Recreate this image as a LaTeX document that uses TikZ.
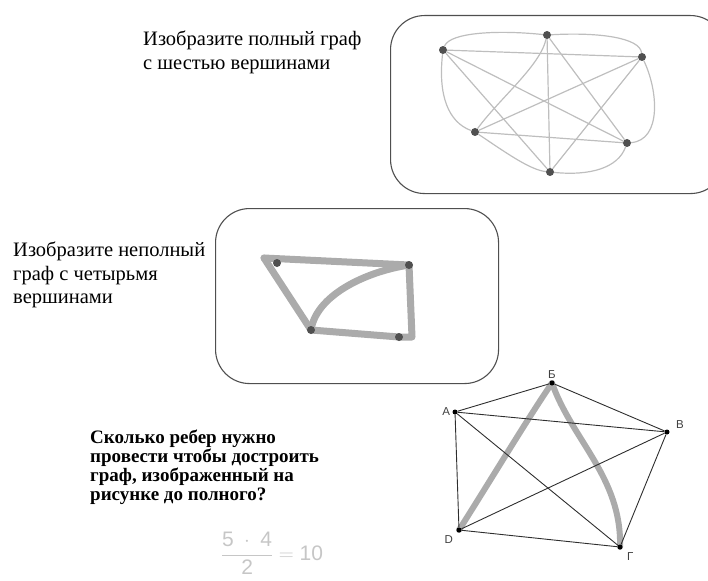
\documentclass[tikz,border=0pt]{standalone}
\usepackage{fontspec}
\setmainfont{Liberation Serif}
\setsansfont{Liberation Sans}
\usetikzlibrary{positioning,backgrounds}
\definecolor{frame600} {HTML}{4F4F4F}
\definecolor{edge300}  {HTML}{BEBEBE}
\definecolor{mark700}  {HTML}{505050}
\definecolor{hilite400}{HTML}{ABABAB}
\definecolor{line800}  {HTML}{2E2E2E}
\definecolor{hand300}  {HTML}{C6C6C6}
\tikzset{
  frame/.style ={draw=frame600, line width=1.1pt, rounded corners=34pt,
                 inner sep=0pt, anchor=north west},
  task/.style  ={align=left, inner sep=0pt, anchor=north west,
                 font=\fontsize{20.5}{23.5}\selectfont},
  taskb/.style ={align=left, inner sep=0pt, anchor=north west,
                 font=\bfseries\fontsize{19}{19}\selectfont},
  dot/.style   ={circle, fill=mark700, inner sep=0pt, minimum size=8pt},
  sdot/.style  ={circle, fill=black, inner sep=0pt, minimum size=5pt},
  ed/.style    ={draw=edge300, line width=1.2pt},
  fat/.style   ={draw=hilite400, line width=7pt, line cap=round,
                 line join=round},
  ln/.style    ={draw=line800, line width=0.9pt},
  lbl/.style   ={font=\sffamily\fontsize{11.5}{12}\selectfont,
                 text=black!75, inner sep=1pt},
  hand/.style  ={text=hand300, inner sep=0pt,
                 font=\sffamily\fontsize{21}{21}\selectfont}
}
\begin{document}
\begin{tikzpicture}[x=1pt,y=-1pt]
\useasboundingbox (0,0) rectangle (708,580);

% complete graph on six vertices
\node[task] (t1) at (143,31) {Изобразите полный граф\\с шестью вершинами};
\node[frame, minimum width=334pt, minimum height=178pt] (box1) at (390,15) {};
\node[dot] (v1) at (443,50) {};
\node[dot] (v2) at (547,35) {};
\node[dot] (v3) at (642,57) {};
\node[dot] (v4) at (475,132) {};
\node[dot] (v5) at (627,143) {};
\node[dot] (v6) at (550,172) {};
\begin{scope}[on background layer]
\draw[ed] (v1) .. controls (450,32) and (500,30) .. (v2);
\draw[ed] (v2) .. controls (600,32) and (640,38) .. (v3);
\draw[ed] (v1) .. controls (438,95) and (448,122) .. (v4);
\draw[ed] (v3) .. controls (658,90) and (662,140) .. (v5);
\draw[ed] (v4) .. controls (505,152) and (530,170) .. (v6);
\draw[ed] (v5) .. controls (618,168) and (590,176) .. (v6);
\draw[ed] (v2) .. controls (540,66) and (500,98) .. (v4);
\draw[ed] (v1) -- (v3);
\draw[ed] (v1) -- (v5);
\draw[ed] (v1) -- (v6);
\draw[ed] (v2) -- (v5);
\draw[ed] (v2) -- (v6);
\draw[ed] (v3) -- (v4);
\draw[ed] (v3) -- (v6);
\draw[ed] (v4) -- (v5);
\end{scope}

% incomplete graph on four vertices
\node[task] (t2) at (13,242) {Изобразите неполный\\граф с четырьмя\\вершинами};
\node[frame, minimum width=283pt, minimum height=175pt] (box2) at (215,208) {};
\node[dot] (a) at (277,263) {};
\node[dot] (b) at (409,265) {};
\node[dot] (c) at (311,330) {};
\node[dot] (d) at (399,337) {};
\coordinate (a0) at (264,258);
\coordinate (b0) at (412,337);
\begin{scope}[on background layer]
\draw[fat] (a0) -- (b.center);
\draw[fat] (a0) -- (c.center);
\draw[fat] (c.center) -- (d.center);
\draw[fat] (b.center) -- (b0) -- (d.center);
\draw[fat] (c.center) .. controls (316,296) and (364,272) .. (b.center);
\end{scope}

% how many edges are missing
\node[taskb] (t3) at (90,430)
  {Сколько ребер нужно\\провести чтобы достроить\\граф, изображенный на\\рисунке до полного?};
\node[hand] (sum) at (272,553)
  {$\displaystyle\frac{\mathsf{5}\;\cdot\;\mathsf{4}}{\mathsf{2}}=\mathsf{10}$};

\node[sdot] (A) at (455,412) {};
\node[sdot] (B) at (552,383) {};
\node[sdot] (V) at (667,432) {};
\node[sdot] (D) at (459,530) {};
\node[sdot] (G) at (620,547) {};
\node[lbl, above=1pt of B]      {Б};
\node[lbl, left=1pt of A]       {А};
\node[lbl, above right=0pt and 6pt of V] {В};
\node[lbl, below left=2pt and 3pt of D]  {D};
\node[lbl, below right=2pt and 4pt of G] {Г};
\begin{scope}[on background layer]
\draw[fat, line width=6pt] (D.center) .. controls (492,478) and (528,418) .. (B.center);
\draw[fat, line width=6pt] (B.center) .. controls (572,440) and (622,478) .. (G.center);
\end{scope}
\draw[ln] (A) -- (B);
\draw[ln] (B) -- (V);
\draw[ln] (A) -- (V);
\draw[ln] (A) -- (D);
\draw[ln] (A) -- (G);
\draw[ln] (D) -- (V);
\draw[ln] (D) -- (G);
\draw[ln] (V) -- (G);
\end{tikzpicture}
\end{document}
